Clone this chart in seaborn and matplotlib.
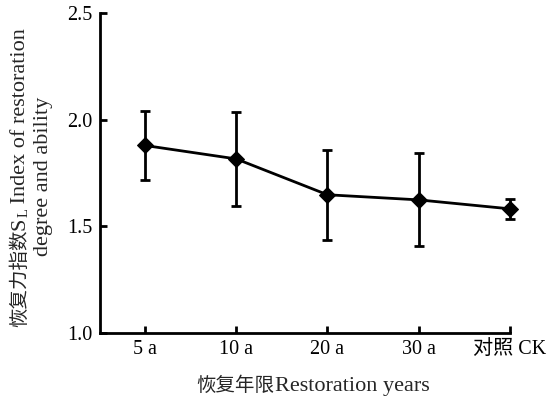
import matplotlib
matplotlib.use("Agg")
import matplotlib.pyplot as plt
import seaborn as sns
import numpy as np
from matplotlib.font_manager import FontProperties

categories = ["5 a", "10 a", "20 a", "30 a", "对照 CK"]
means = [1.879, 1.816, 1.648, 1.624, 1.582]
errors = [0.162, 0.22, 0.211, 0.218, 0.046]

xlabel_cn = "恢复年限"
xlabel_en = "Restoration years"
ylabel_cn = "恢复力指数"
ylabel_sym = "S"
ylabel_sub = "L"
ylabel_en1 = " Index of restoration"
ylabel_en2 = "degree and ability"

sns.set_style("ticks")
plt.rcParams['font.family'] = ['Liberation Serif', 'Noto Sans CJK SC']

W, H = 548, 400
fig = plt.figure(figsize=(W / 100, H / 100), dpi=100)
ax = fig.add_axes([100 / W, 1 - 333 / H, 410 / W, 320 / H])

x = np.arange(len(categories))
ax.errorbar(x, means, yerr=errors, fmt='none', ecolor='black', elinewidth=2,
            capsize=3.6, capthick=2, clip_on=False, zorder=2)
sns.lineplot(x=x, y=means, ax=ax, color='black', linewidth=2, marker='D',
             markersize=8.5, markeredgecolor='black', markerfacecolor='black',
             clip_on=False, zorder=3)

ax.set_xlim(-0.493, 4.0)
ax.set_ylim(1.0, 2.5)
ax.set_xticks(x)
ax.set_xticklabels(categories)
ax.set_yticks([1.0, 1.5, 2.0, 2.5])
ax.set_yticklabels(["1.0", "1.5", "2.0", "2.5"])
for s in ['top', 'right']:
    ax.spines[s].set_visible(False)
for s in ['left', 'bottom']:
    ax.spines[s].set_linewidth(2)
    ax.spines[s].set_color('black')
ax.tick_params(axis='both', direction='in', length=5, width=2, labelsize=14.5,
               colors='black')
ax.tick_params(axis='x', pad=5)
ax.tick_params(axis='y', pad=5.5)

cn = FontProperties(family='Noto Sans CJK SC', size=14)
en = FontProperties(family='Liberation Serif', size=16)
en_sub = FontProperties(family='Liberation Serif', size=10.5)

fig.canvas.draw()
renderer = fig.canvas.get_renderer()


def px(t):
    return t.get_window_extent(renderer)


# x label: horizontal pieces centred at x_c, baseline at y_b (pixels from bottom)
def hpieces(pieces, x_c, y_b):
    texts = []
    for s, fp in pieces:
        t = fig.text(0, y_b / H, s, fontproperties=fp, ha='left', va='baseline')
        texts.append(t)
    widths = [px(t).width for t in texts]
    total = sum(widths)
    cur = x_c - total / 2
    for t, w in zip(texts, widths):
        t.set_x(cur / W)
        cur += w


# rotated pieces: baseline at x_b (pixels), centred vertically at y_c
def vpieces(pieces, x_b, y_c):
    texts = []
    for s, fp, dx in pieces:
        t = fig.text((x_b + dx) / W, 0, s, fontproperties=fp, rotation=90,
                     rotation_mode='anchor', ha='left', va='baseline')
        texts.append(t)
    lens = [px(t).height for t in texts]
    total = sum(lens)
    cur = y_c - total / 2
    for t, l in zip(texts, lens):
        t.set_y(cur / H)
        cur += l


hpieces([(xlabel_cn, cn), (xlabel_en, en)], 313, H - 391)
vpieces([(ylabel_cn, cn, 0), (ylabel_sym, en, 0), (ylabel_sub, en_sub, 3),
         (ylabel_en1, en, 0)], 25, H - 177.5)
vpieces([(ylabel_en2, en, 0)], 48, H - 176.5)

fig.savefig("out.png", dpi=100)
